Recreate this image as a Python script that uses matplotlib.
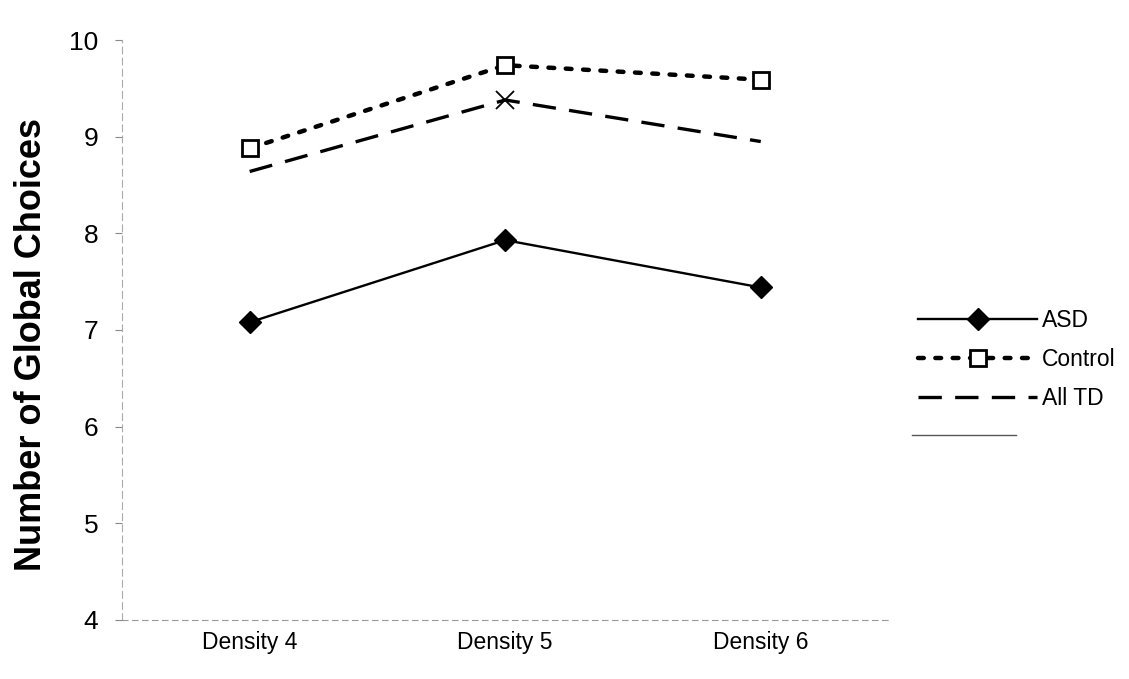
import matplotlib
matplotlib.use('Agg')
import matplotlib.pyplot as plt
from matplotlib.lines import Line2D

plt.rcParams['font.family'] = ['Liberation Sans', 'DejaVu Sans']

# mean number of global choices per density condition
densities = ['Density 4', 'Density 5', 'Density 6']
asd = [7.08, 7.93, 7.44]
control = [8.88, 9.74, 9.59]
all_td = [8.64, 9.38, 8.95]

fig = plt.figure(figsize=(11.29, 6.79), dpi=100)
ax = fig.add_axes([0.108, 0.087, 0.679, 0.854])

x = list(range(len(densities)))

ax.plot(x, asd, color='black', lw=1.7, marker='D', markersize=11,
        markerfacecolor='black', label='ASD')
ax.plot(x, control, color='black', lw=3.2, linestyle=(0, (1.3, 2.6)),
        dash_capstyle='round', marker='s', markersize=11,
        markerfacecolor='white', markeredgewidth=2, label='Control')
ax.plot(x, all_td, color='black', lw=2.4, linestyle=(0, (7, 4)),
        label='All TD')
# the cross is only legible at the middle point
ax.plot(x[1], all_td[1], linestyle='none', marker='x', markersize=13,
        markeredgewidth=1.3, color='black')

ax.set_xlim(-0.5, 2.5)
ax.set_ylim(4, 10)
ax.set_yticks([4, 5, 6, 7, 8, 9, 10])
ax.set_xticks(x)
ax.set_xticklabels(densities, fontsize=16.5)
ax.tick_params(axis='y', labelsize=19, length=5, width=0.8, color='#888888', pad=12)
ax.tick_params(axis='x', length=0, pad=8)

for side in ['top', 'right']:
    ax.spines[side].set_visible(False)
ax.spines['left'].set_color('#aaaaaa')
ax.spines['left'].set_linestyle((0, (6, 4)))
ax.spines['left'].set_linewidth(0.8)
ax.spines['bottom'].set_color('#999999')
ax.spines['bottom'].set_linestyle((0, (5, 4)))
ax.spines['bottom'].set_linewidth(0.8)

ax.set_ylabel('Number of Global Choices', fontsize=26, fontweight='bold')
ax.yaxis.set_label_coords(-0.095, 0.475)

leg = fig.legend(loc='center left', bbox_to_anchor=(0.795, 0.47), frameon=False,
                 fontsize=16.5, handlelength=5.2, labelspacing=0.7, handletextpad=0.2)

# short rule under the key
fig.add_artist(Line2D([0.808, 0.9], [0.359, 0.359], color='#555555', lw=1.0))

fig.savefig('out.png', dpi=100)
